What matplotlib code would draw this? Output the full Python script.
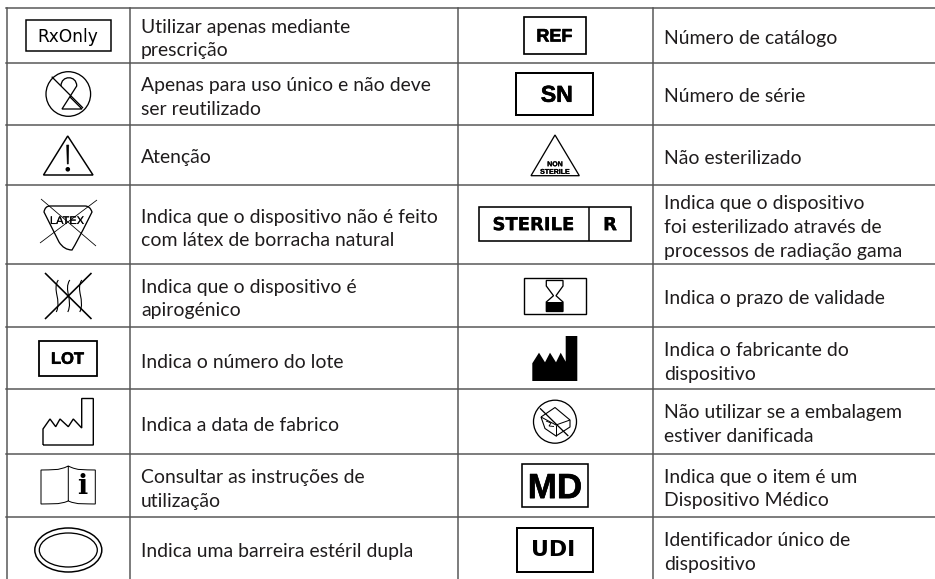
#!/usr/bin/env python3
"""Tabela de símbolos do dispositivo: símbolo + descrição, duas colunas."""
import matplotlib
matplotlib.use("Agg")
import matplotlib.pyplot as plt
import matplotlib.patheffects as pe
from matplotlib.patches import Circle, Ellipse, PathPatch, Polygon, Rectangle
from matplotlib.path import Path

W, H = 935, 579
INK = "#000000"
TXT = "#1f1c1d"
GRID = "#555555"

# grid of the table, in image pixels
col_lines = [6.5, 129.5, 457.5, 652.5]
row_lines = [7.5, 63, 125, 184.5, 263.5, 327, 389, 454, 517]

left_text = [
    ["Utilizar apenas mediante", "prescrição"],
    ["Apenas para uso único e não deve", "ser reutilizado"],
    ["Atenção"],
    ["Indica que o dispositivo não é feito", "com látex de borracha natural"],
    ["Indica que o dispositivo é", "apirogénico"],
    ["Indica o número do lote"],
    ["Indica a data de fabrico"],
    ["Consultar as instruções de", "utilização"],
    ["Indica uma barreira estéril dupla"],
]
left_base = [32.5, 90.8, 162.8, 222.5, 292.5, 367.5, 430.8, 482.8, 557.5]

right_text = [
    ["Número de catálogo"],
    ["Número de série"],
    ["Não esterilizado"],
    ["Indica que o dispositivo", "foi esterilizado através de",
     "processos de radiação gama"],
    ["Indica o prazo de validade"],
    ["Indica o fabricante do", "dispositivo"],
    ["Não utilizar se a embalagem", "estiver danificada"],
    ["Indica que o item é um", "Dispositivo Médico"],
    ["Identificador único de", "dispositivo"],
]
right_base = [44.3, 102.5, 163.8, 208.8, 303.8, 355.8, 417.8, 482.5, 546.5]


def pt(px):
    return px * 0.72


def line(ax, xs, ys, lw=1.3, color=INK):
    ax.plot(xs, ys, color=color, lw=pt(lw), solid_capstyle="butt",
            solid_joinstyle="miter")


def box(ax, x0, y0, x1, y1, lw=1.7):
    ax.add_patch(Rectangle((x0, y0), x1 - x0, y1 - y0, fill=False,
                           ec=INK, lw=pt(lw)))


def label(ax, x, y, s, px, family="Liberation Sans", weight="bold", stroke=0.6):
    # y is the middle of the capitals
    t = ax.text(x, y + 0.36 * px, s, fontsize=pt(px), family=family, weight=weight,
                color=INK, ha="center", va="baseline")
    if stroke:
        t.set_path_effects([pe.withStroke(linewidth=pt(stroke), foreground=INK)])


def curve(ax, verts, codes, lw=1.3, fc="none"):
    ax.add_patch(PathPatch(Path(verts, codes), fc=fc, ec=INK, lw=pt(lw)))


def main():
    fig = plt.figure(figsize=(W / 100, H / 100), dpi=100)
    ax = fig.add_axes([0, 0, 1, 1])
    ax.set_xlim(0, W)
    ax.set_ylim(H, 0)
    ax.axis("off")

    # ---- grid ----
    for y in row_lines:
        ax.plot([col_lines[0] - 0.7, W], [y, y], color=GRID, lw=pt(1.5))
    for x in col_lines:
        ax.plot([x, x], [row_lines[0], H], color=GRID, lw=pt(1.5))

    # ---- descriptions ----
    for x, texts, bases in [(141, left_text, left_base), (664, right_text, right_base)]:
        for lines, base in zip(texts, bases):
            for i, s in enumerate(lines):
                ax.text(x, base + i * 23.9, s, fontsize=pt(19.4), family="Lato",
                        color=TXT, ha="left", va="baseline")

    # ---- left symbols ----
    box(ax, 25.5, 20, 111, 51, lw=1.5)
    label(ax, 68, 35.5, "RxOnly", 17, family="DejaVu Sans", weight="normal", stroke=0)

    # single use
    ax.add_patch(Circle((68.3, 94), 22.3, fill=False, ec=INK, lw=pt(1.3)))
    line(ax, [51.7, 83], [76.7, 108])
    curve(ax, [(61, 86), (61, 75), (76.7, 75), (76.7, 86), (62, 109), (82, 109), (70, 97)],
          [Path.MOVETO, Path.CURVE4, Path.CURVE4, Path.CURVE4,
           Path.LINETO, Path.LINETO, Path.LINETO])

    # warning
    ax.add_patch(Polygon([(67.7, 136), (43.5, 175), (93, 175)], fill=False,
                         ec=INK, lw=pt(1.5), joinstyle="miter"))
    ax.add_patch(Polygon([(66.7, 145), (68.8, 145), (68.3, 164), (67.2, 164)],
                         fc=INK, ec=INK, lw=0.4))
    ax.add_patch(Circle((67.8, 169.3), 2.3, fc=INK, ec="none"))

    # latex
    curve(ax, [(50, 206), (85, 206), (90, 206), (92, 212), (88, 220), (77, 242),
               (72, 250), (64, 250), (59, 242), (48, 220), (44, 212), (45, 206), (50, 206)],
          [Path.MOVETO, Path.LINETO, Path.CURVE3, Path.CURVE3, Path.LINETO, Path.CURVE3,
           Path.CURVE3, Path.CURVE3, Path.LINETO, Path.CURVE3, Path.CURVE3, Path.CURVE3, Path.CURVE3],
          lw=1.3)
    label(ax, 67, 220, "LATEX", 11, weight="normal", stroke=0.2)
    line(ax, [41, 96], [199, 246], lw=0.8)
    line(ax, [97, 40], [200, 243], lw=0.8)

    # non pyrogenic
    line(ax, [45, 91.5], [273, 319], lw=1.6)
    line(ax, [91.5, 45], [273, 319], lw=1.6)
    for dx in [-11.5, 0, 12]:
        x = 68.3 + dx
        curve(ax, [(x + 1.5, 280), (x - 5, 290), (x + 5, 300), (x - 0.5, 312)],
              [Path.MOVETO, Path.CURVE4, Path.CURVE4, Path.CURVE4], lw=1.1)

    # LOT
    box(ax, 39, 341, 97.3, 376, lw=1.8)
    label(ax, 67.5, 357.8, "LOT", 16.5)

    # manufacture date
    line(ax, [43, 43, 50, 55.7, 60, 68.3, 73.3, 81.7, 81.7, 93.3, 93.3, 43],
         [445, 429, 419, 426.7, 419, 426.7, 419, 428, 398.5, 398.5, 445, 445], lw=1.4)

    # instructions
    curve(ax, [(68.3, 466), (58, 471), (52, 469.5), (41, 470), (41, 504),
               (52, 503.5), (58, 505), (68.3, 501), (78, 505), (84, 503.5),
               (95.3, 504), (95.3, 470), (84, 469.5), (78, 471), (68.3, 466), (68.3, 501)],
          [Path.MOVETO, Path.CURVE4, Path.CURVE4, Path.CURVE4, Path.LINETO,
           Path.CURVE4, Path.CURVE4, Path.CURVE4, Path.CURVE4, Path.CURVE4,
           Path.CURVE4, Path.LINETO, Path.CURVE4, Path.CURVE4, Path.CURVE4, Path.LINETO],
          lw=1.0)
    ax.text(81.7, 486, "i", fontsize=pt(27), family="DejaVu Serif", weight="bold",
            color=INK, ha="center", va="center")

    # double barrier
    ax.add_patch(Ellipse((68.3, 550), 67, 44, fill=False, ec=INK, lw=pt(1.5)))
    ax.add_patch(Ellipse((68.3, 550), 58, 34, fill=False, ec=INK, lw=pt(1.3)))

    # ---- right symbols ----
    box(ax, 523.7, 17.3, 586.3, 54.3)
    label(ax, 554.5, 35, "REF", 18)

    box(ax, 516.3, 73, 593.3, 115, lw=2)
    label(ax, 556.7, 93.5, "SN", 23)

    ax.add_patch(Polygon([(555, 135), (531, 175.7), (579.3, 175.7)], fill=False,
                         ec=INK, lw=pt(1.3), joinstyle="miter"))
    label(ax, 555, 163.7, "NON", 7, stroke=0.2)
    label(ax, 555, 171.3, "STERILE", 7, stroke=0.2)

    box(ax, 479.3, 207.3, 630.7, 241, lw=1.6)
    line(ax, [589, 589], [207.3, 241], lw=1.5)
    label(ax, 533.3, 223.7, "STERILE", 18, family="DejaVu Sans", stroke=0.2)
    label(ax, 610, 223.7, "R", 18, family="DejaVu Sans", stroke=0.2)

    box(ax, 523.7, 278.3, 586.3, 314, lw=1.4)
    ax.add_patch(Polygon([(546.3, 280.5), (563, 280.5), (563, 286), (556, 295.7),
                          (563, 302), (563, 311.5), (546.3, 311.5), (546.3, 302),
                          (553.5, 295.7), (546.3, 286)], fill=False, ec=INK, lw=pt(1.3)))
    ax.add_patch(Rectangle((546.3, 302), 16.7, 9.7, fc=INK, ec="none"))

    # manufacturer
    ax.add_patch(Polygon([(532.3, 381), (532.3, 363.3), (539, 352.7), (545, 362.3),
                          (550, 352.7), (556, 362.3), (560.7, 352.7), (565.7, 361.7),
                          (565.7, 336), (577.3, 336), (577.3, 381)], fc=INK, ec="none"))

    # damaged package
    ax.add_patch(Circle((555, 421.7), 21.5, fill=False, ec=INK, lw=pt(1.3)))
    line(ax, [540, 568.3], [408.3, 436], lw=1.3)
    line(ax, [541, 555, 570, 570, 556, 545, 541], [417, 407.5, 420, 427, 436, 428.5, 417], lw=1.1)
    line(ax, [541, 556, 570], [417, 425, 420], lw=1.0)
    line(ax, [556, 556], [425, 436], lw=1.0)
    line(ax, [546, 551, 549, 554], [421, 423, 426, 426.5], lw=0.9)

    # MD / UDI
    box(ax, 521.7, 464, 587.7, 506.7, lw=1.6)
    label(ax, 555, 485.5, "MD", 35)

    box(ax, 516.7, 528.3, 593.3, 572, lw=2)
    label(ax, 553.3, 548.3, "UDI", 22, family="DejaVu Sans", stroke=0)

    fig.savefig("out.png", dpi=100)


if __name__ == "__main__":
    main()
